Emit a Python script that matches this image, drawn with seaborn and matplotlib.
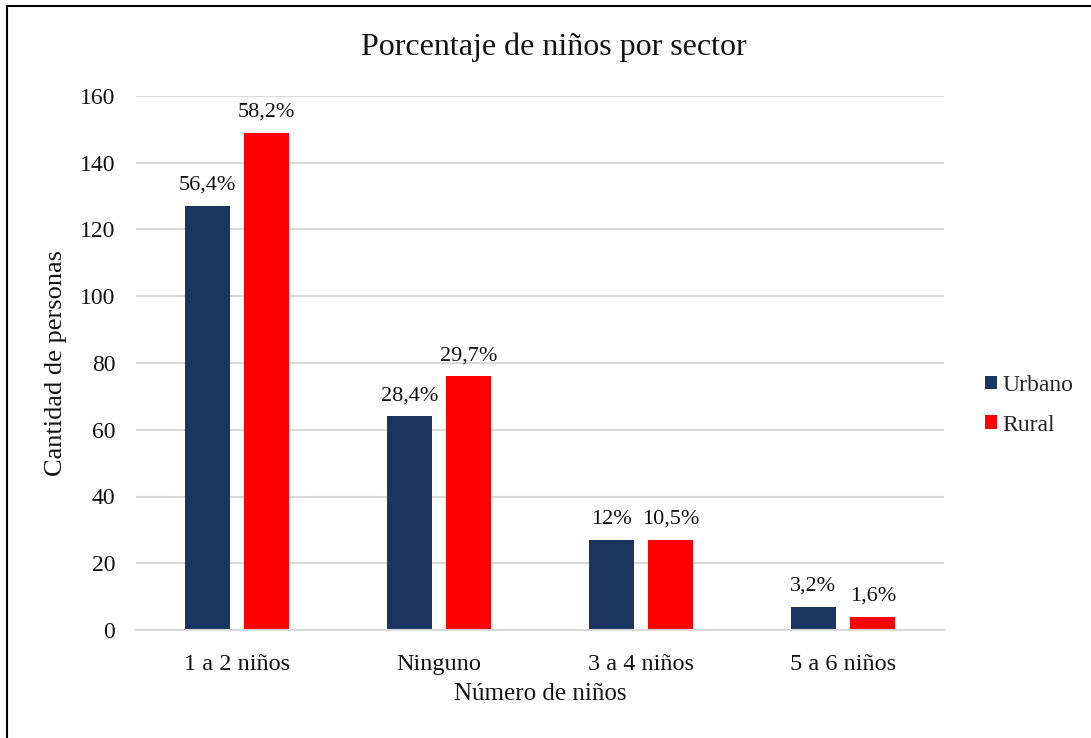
import pandas as pd
import matplotlib.pyplot as plt
import seaborn as sns
from matplotlib.patches import Rectangle

# Datos
CATEGORIAS = ["1 a 2 niños", "Ninguno", "3 a 4 niños", "5 a 6 niños"]
URBANO = [127, 64, 27, 7]
RURAL = [149, 76, 27, 4]
ETIQ_URBANO = ["56,4%", "28,4%", "12%", "3,2%"]
ETIQ_RURAL = ["58,2%", "29,7%", "10,5%", "1,6%"]
SECTORES = ["Urbano", "Rural"]
COLORES = {"Urbano": "#1a3660", "Rural": "#ff0000"}

sns.set_theme(style="white")
plt.rcParams["font.family"] = ["Liberation Serif", "DejaVu Serif"]

df = pd.DataFrame({
    "Número de niños": CATEGORIAS * 2,
    "Cantidad": URBANO + RURAL,
    "Sector": ["Urbano"] * len(URBANO) + ["Rural"] * len(RURAL),
})

fig = plt.figure(figsize=(10.91, 7.38), dpi=100)
ax = fig.add_axes([136 / 1091, 1 - 630 / 738, 808 / 1091, 534 / 738])

sns.barplot(
    data=df, x="Número de niños", y="Cantidad", hue="Sector",
    hue_order=SECTORES, order=CATEGORIAS, palette=COLORES,
    width=0.59, gap=0.25, ax=ax, edgecolor="none", saturation=1,
)

for cont, etiquetas in zip(ax.containers, [ETIQ_URBANO, ETIQ_RURAL]):
    ax.bar_label(cont, labels=etiquetas, padding=8, fontsize=16, color="#111111")

ax.set_ylim(0, 160)
ax.set_xlim(-0.5, 3.5)
ax.set_yticks(range(0, 161, 20))
ax.yaxis.grid(True, color="#d9d9d9", linewidth=1.5)
ax.set_axisbelow(True)
for side in ["left", "right", "top"]:
    ax.spines[side].set_visible(False)
ax.spines["bottom"].set_color("#d9d9d9")
ax.spines["bottom"].set_linewidth(1.5)
ax.tick_params(axis="both", colors="#111111", length=0)
ax.tick_params(axis="y", pad=15, labelsize=17)
ax.tick_params(axis="x", pad=17, labelsize=17.5)

ax.set_xlabel("Número de niños", fontsize=18, labelpad=6, color="#111111")
ax.set_ylabel("Cantidad de personas", fontsize=19, labelpad=9, color="#111111")

leg = ax.legend(
    loc="center left", bbox_to_anchor=(1.025, 0.421), frameon=False,
    fontsize=17, handlelength=0.51, handleheight=0.51, handletextpad=0.2,
    labelspacing=0.8,
)

fig.text(0.508, 1 - 47 / 738, "Porcentaje de niños por sector", ha="center", va="center",
         fontsize=23, color="#111111")

# Marco de la figura
fig.patches.append(Rectangle((7 / 1091, -0.05), 1.1, 0.05 + 1 - 6 / 738,
                             transform=fig.transFigure, fill=False,
                             edgecolor="black", linewidth=1.5))

fig.savefig("out.png", dpi=100)
